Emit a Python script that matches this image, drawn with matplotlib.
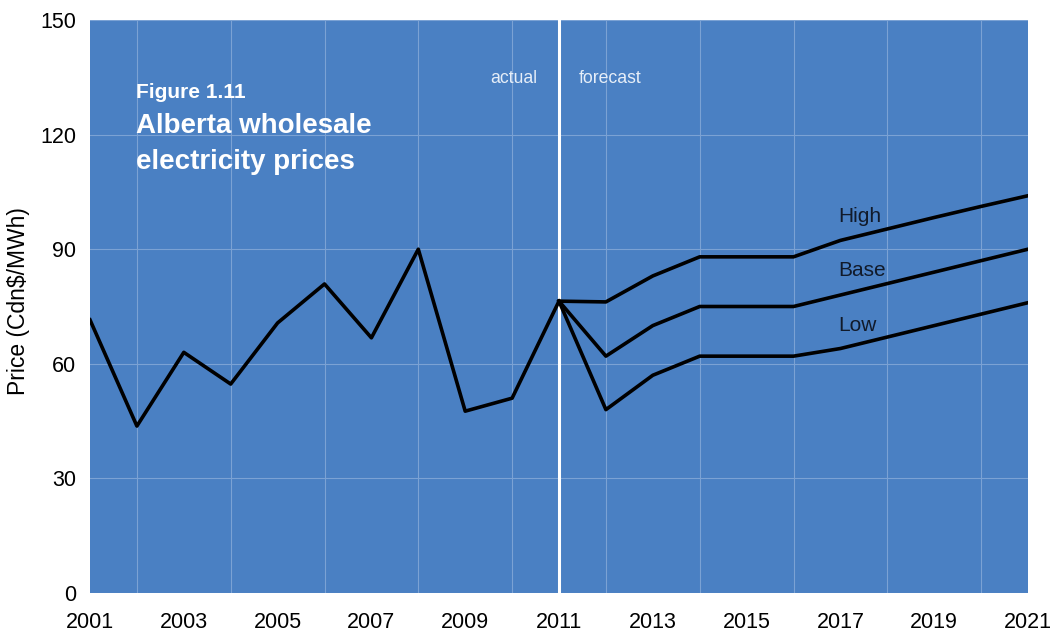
import matplotlib
matplotlib.use("Agg")
import matplotlib.pyplot as plt

plt.rcParams['font.family'] = ['Liberation Sans', 'DejaVu Sans']

actual_years = [2001, 2002, 2003, 2004, 2005, 2006, 2007, 2008, 2009, 2010, 2011]
actual_prices = [71.5, 43.7, 63.0, 54.7, 70.7, 80.9, 66.8, 90.0, 47.6, 51.0, 76.4]

forecast_years = [2011, 2012, 2013, 2014, 2015, 2016, 2017, 2018, 2019, 2020, 2021]
high_prices = [76.4, 76.2, 83.0, 88.0, 88.0, 88.0, 92.3, 95.3, 98.3, 101.2, 104.0]
base_prices = [76.4, 62.0, 70.0, 75.0, 75.0, 75.0, 78.0, 81.0, 84.0, 87.0, 90.0]
low_prices = [76.4, 48.0, 57.0, 62.0, 62.0, 62.0, 64.0, 67.0, 70.0, 73.0, 76.0]

x_ticks = [2001, 2003, 2005, 2007, 2009, 2011, 2013, 2015, 2017, 2019, 2021]
y_ticks = [0, 30, 60, 90, 120, 150]

bg = '#4a80c3'
grid_c = '#7ba2d4'

fig = plt.figure(figsize=(10.52, 6.36), dpi=100)
ax = fig.add_axes([90/1052, 43/636, 938/1052, 573/636])
ax.set_facecolor(bg)

ax.set_xlim(2001, 2021)
ax.set_ylim(0, 150)
ax.set_xticks(x_ticks)
ax.set_yticks(y_ticks)
ax.set_xticks(range(2001, 2022), minor=True)
ax.tick_params(which='both', length=0, labelsize=15.5, colors='black')
ax.tick_params(axis='x', pad=14)
ax.tick_params(axis='y', pad=10)
ax.grid(which='major', axis='y', color=grid_c, linewidth=0.8)
ax.grid(which='minor', axis='x', color=grid_c, linewidth=0.8)
ax.set_axisbelow(True)
for s in ax.spines.values():
    s.set_visible(False)

ax.set_ylabel('Price (Cdn$/MWh)', fontsize=16.5)
ax.yaxis.set_label_coords(-0.064, 0.51)

ax.axvline(2011, color='white', linewidth=2.2, zorder=2)

lw = 2.6
ax.plot(actual_years, actual_prices, color='black', linewidth=lw, zorder=3)
ax.plot(forecast_years, high_prices, color='black', linewidth=lw, zorder=3)
ax.plot(forecast_years, base_prices, color='black', linewidth=lw, zorder=3)
ax.plot(forecast_years, low_prices, color='black', linewidth=lw, zorder=3)

lab_c = '#111a2a'
ax.text(2016.95, 98.6, 'High', fontsize=15, va='center', ha='left', color=lab_c)
ax.text(2016.95, 84.5, 'Base', fontsize=15, va='center', ha='left', color=lab_c)
ax.text(2016.95, 69.9, 'Low', fontsize=15, va='center', ha='left', color=lab_c)

ax.text(2010.04, 134.6, 'actual', fontsize=12.7, ha='center', va='center', color='#e6eef8')
ax.text(2012.09, 134.6, 'forecast', fontsize=12.7, ha='center', va='center', color='#e6eef8')

ax.text(0.049, 0.874, 'Figure 1.11', transform=ax.transAxes, fontsize=15,
        fontweight='bold', color='white', ha='left', va='center')
ax.text(0.049, 0.815, 'Alberta wholesale', transform=ax.transAxes, fontsize=20,
        fontweight='bold', color='white', ha='left', va='center')
ax.text(0.049, 0.752, 'electricity prices', transform=ax.transAxes, fontsize=20,
        fontweight='bold', color='white', ha='left', va='center')

fig.savefig('out.png', dpi=100, facecolor='white')
